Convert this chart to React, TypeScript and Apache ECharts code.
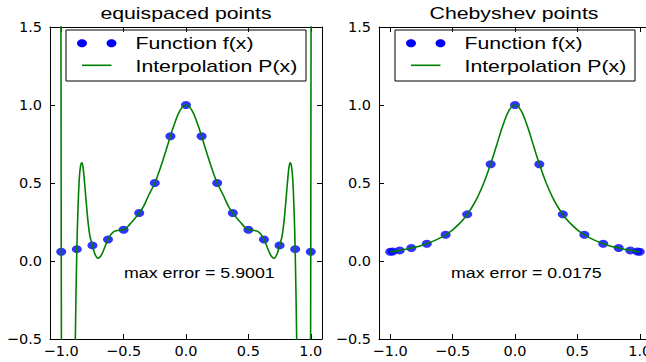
import React, { useEffect, useRef } from 'react';
import * as echarts from 'echarts';

// ---- data ----
const xTicks = [-1, -0.5, 0, 0.5, 1];

// equispaced nodes and f(x) values
const equiX = [-1, -0.875, -0.75, -0.625, -0.5, -0.375, -0.25, -0.125, 0, 0.125, 0.25, 0.375, 0.5, 0.625, 0.75, 0.875, 1];
const equiY = [0.059, 0.076, 0.1, 0.138, 0.2, 0.308, 0.5, 0.8, 1.0, 0.8, 0.5, 0.308, 0.2, 0.138, 0.1, 0.076, 0.059];

// equispaced interpolation curve P(x) (off-chart parts estimated)
const equiCurveX = [
  -1.02, -1.0, -0.98, -0.95, -0.925, -0.905, -0.887, -0.875, -0.865, -0.855, -0.845, -0.835, -0.825, -0.815,
  -0.8, -0.785, -0.77, -0.75, -0.73, -0.705, -0.68, -0.655, -0.625, -0.6, -0.575, -0.55, -0.525, -0.5,
  -0.47, -0.44, -0.41, -0.375, -0.34, -0.3, -0.25, -0.2, -0.15, -0.125, -0.1, -0.05, 0,
  0.05, 0.1, 0.125, 0.15, 0.2, 0.25, 0.3, 0.34, 0.375, 0.41, 0.44, 0.47,
  0.5, 0.525, 0.55, 0.575, 0.6, 0.625, 0.655, 0.68, 0.705, 0.73, 0.75, 0.77, 0.785, 0.8,
  0.815, 0.825, 0.835, 0.845, 0.855, 0.865, 0.875, 0.887, 0.905, 0.925, 0.95, 0.98, 1.0, 1.02,
];
const equiCurveY = [
  15, 0.059, -5.0, -5.9, -4.2, -1.8, -0.5, 0.076, 0.35, 0.53, 0.61, 0.63, 0.6, 0.52,
  0.38, 0.25, 0.16, 0.1, 0.045, 0.017, 0.035, 0.08, 0.138, 0.172, 0.19, 0.196, 0.198, 0.2,
  0.218, 0.245, 0.272, 0.308, 0.35, 0.42, 0.5, 0.61, 0.735, 0.8, 0.862, 0.962, 1.0,
  0.962, 0.862, 0.8, 0.735, 0.61, 0.5, 0.42, 0.35, 0.308, 0.272, 0.245, 0.218,
  0.2, 0.198, 0.196, 0.19, 0.172, 0.138, 0.08, 0.035, 0.017, 0.045, 0.1, 0.16, 0.25, 0.38,
  0.52, 0.6, 0.63, 0.61, 0.53, 0.35, 0.076, -0.5, -1.8, -4.2, -5.9, -5.0, 0.059, 15,
];

// Chebyshev nodes and f(x) values
const chebX = [-1, -0.98, -0.924, -0.831, -0.707, -0.556, -0.383, -0.195, 0, 0.195, 0.383, 0.556, 0.707, 0.831, 0.924, 0.98, 1];
const chebY = [0.059, 0.061, 0.068, 0.083, 0.111, 0.168, 0.299, 0.62, 1.0, 0.62, 0.299, 0.168, 0.111, 0.083, 0.068, 0.061, 0.059];

// Chebyshev interpolation curve P(x)
const chebCurveX = [
  -1, -0.95, -0.9, -0.85, -0.8, -0.75, -0.7, -0.65, -0.6, -0.55, -0.5, -0.45, -0.4, -0.35, -0.3, -0.25, -0.2, -0.15, -0.1, -0.05, 0,
  0.05, 0.1, 0.15, 0.2, 0.25, 0.3, 0.35, 0.4, 0.45, 0.5, 0.55, 0.6, 0.65, 0.7, 0.75, 0.8, 0.85, 0.9, 0.95, 1,
];
const chebCurveY = [
  0.059, 0.065, 0.072, 0.08, 0.089, 0.1, 0.113, 0.129, 0.148, 0.171, 0.2, 0.236, 0.281, 0.338, 0.41, 0.5, 0.61, 0.735, 0.862, 0.962, 1.0,
  0.962, 0.862, 0.735, 0.61, 0.5, 0.41, 0.338, 0.281, 0.236, 0.2, 0.171, 0.148, 0.129, 0.113, 0.1, 0.089, 0.08, 0.072, 0.065, 0.059,
];

const titles = ['equispaced points', 'Chebyshev points'];
const errorTexts = ['max error = 5.9001', 'max error = 0.0175'];
const seriesNames = ['Function f(x)', 'Interpolation P(x)'];

const X_MIN = -1.09;
const X_MAX = 1.09;
const BLUE = '#0000ff';
const GREEN = '#008000';
const fmt = (v: number) => v.toFixed(1).replace('-', '\u2212');

const zip = (xs: number[], ys: number[]) => xs.map((x, i) => [x, ys[i]]);

const gridLefts = [50, 379];
const titleCenters = [186, 514];
const legendLefts = [66, 395];
const errorLefts = [124, 451];

function xAxes(gridIndex: number) {
  const common = {
    type: 'value' as const,
    gridIndex,
    min: X_MIN,
    max: X_MAX,
    splitLine: { show: false },
    axisLine: { show: true, onZero: false, lineStyle: { color: '#000', width: 1 } },
    axisTick: { show: true, inside: true, length: 5, customValues: xTicks, lineStyle: { color: '#000' } },
  };
  return [
    {
      ...common,
      position: 'bottom',
      axisLabel: {
        show: true,
        customValues: xTicks,
        formatter: fmt,
        margin: 4,
        color: '#000',
        fontFamily: 'DejaVu Sans',
        fontSize: 14.5,
      },
    },
    { ...common, position: 'top', axisLabel: { show: false, customValues: xTicks } },
  ];
}

function yAxes(gridIndex: number) {
  const common = {
    type: 'value' as const,
    gridIndex,
    min: -0.5,
    max: 1.5,
    interval: 0.5,
    splitLine: { show: false },
    axisLine: { show: true, onZero: false, lineStyle: { color: '#000', width: 1 } },
    axisTick: { show: true, inside: true, length: 5, lineStyle: { color: '#000' } },
  };
  return [
    {
      ...common,
      position: 'left',
      axisLabel: { show: true, formatter: fmt, margin: 8, color: '#000', fontFamily: 'DejaVu Sans', fontSize: 14.5 },
    },
    { ...common, position: 'right', axisLabel: { show: false } },
  ];
}

function legendGraphic(left: number) {
  const top = 30;
  const dotY = 43.3;
  const lineY = 65.3;
  return {
    type: 'group',
    z: 100,
    children: [
      { type: 'rect', shape: { x: left, y: top, width: 240, height: 51 }, style: { fill: '#fff', stroke: '#000', lineWidth: 1 } },
      { type: 'ellipse', shape: { cx: left + 16, cy: dotY, rx: 5, ry: 4 }, style: { fill: BLUE } },
      { type: 'ellipse', shape: { cx: left + 45.5, cy: dotY, rx: 5, ry: 4 }, style: { fill: BLUE } },
      { type: 'line', shape: { x1: left + 16, y1: lineY, x2: left + 45.5, y2: lineY }, style: { stroke: GREEN, lineWidth: 1.6 } },
      {
        type: 'text', x: left + 69.5, y: 42.8, scaleX: 1.25,
        style: { text: seriesNames[0], fontFamily: 'Liberation Sans', fontSize: 17, fill: '#000', textAlign: 'left', textVerticalAlign: 'middle' },
      },
      {
        type: 'text', x: left + 69.5, y: 66.3, scaleX: 1.25,
        style: { text: seriesNames[1], fontFamily: 'Liberation Sans', fontSize: 17, fill: '#000', textAlign: 'left', textVerticalAlign: 'middle' },
      },
    ],
  };
}

export default function App() {
  const ref = useRef<HTMLDivElement>(null);
  useEffect(() => {
    const chart = echarts.init(ref.current!, null, { renderer: 'svg' });
    const graphic: any[] = [];
    [0, 1].forEach((i) => {
      graphic.push({
        type: 'text', x: titleCenters[i], y: 13.3, scaleX: 1.25, z: 100,
        style: { text: titles[i], fontFamily: 'Liberation Sans', fontSize: 17, fill: '#000', textAlign: 'center', textVerticalAlign: 'middle' },
      });
      graphic.push({
        type: 'text', x: errorLefts[i], y: 273.4, scaleX: 1.27, z: 100,
        style: { text: errorTexts[i], fontFamily: 'Liberation Sans', fontSize: 14, fill: '#000', textAlign: 'left', textVerticalAlign: 'middle' },
      });
      graphic.push(legendGraphic(legendLefts[i]));
    });

    const option: any = {
      animation: false,
      backgroundColor: '#fff',
      grid: gridLefts.map((left) => ({ left, top: 27, width: 272, height: 312, outerBoundsMode: 'none', containLabel: false })),
      xAxis: [...xAxes(0), ...xAxes(1)],
      yAxis: [...yAxes(0), ...yAxes(1)],
      series: [
        {
          name: seriesNames[0], type: 'scatter', xAxisIndex: 0, yAxisIndex: 0,
          symbol: 'circle', symbolSize: [10, 8], itemStyle: { color: BLUE }, data: zip(equiX, equiY),
        },
        {
          name: seriesNames[1], type: 'line', xAxisIndex: 0, yAxisIndex: 0, showSymbol: false, symbol: 'none',
          smooth: 0.3, clip: true, lineStyle: { color: GREEN, width: 1.6 }, data: zip(equiCurveX, equiCurveY),
        },
        {
          name: seriesNames[0], type: 'scatter', xAxisIndex: 2, yAxisIndex: 2,
          symbol: 'circle', symbolSize: [10, 8], itemStyle: { color: BLUE }, data: zip(chebX, chebY),
        },
        {
          name: seriesNames[1], type: 'line', xAxisIndex: 2, yAxisIndex: 2, showSymbol: false, symbol: 'none',
          smooth: 0.3, clip: true, lineStyle: { color: GREEN, width: 1.6 }, data: zip(chebCurveX, chebCurveY),
        },
      ],
      graphic,
    };
    chart.setOption(option);
    return () => chart.dispose();
  }, []);
  return <div ref={ref} style={{ position: 'fixed', left: 0, top: 0, width: 646, height: 362 }} />;
}
